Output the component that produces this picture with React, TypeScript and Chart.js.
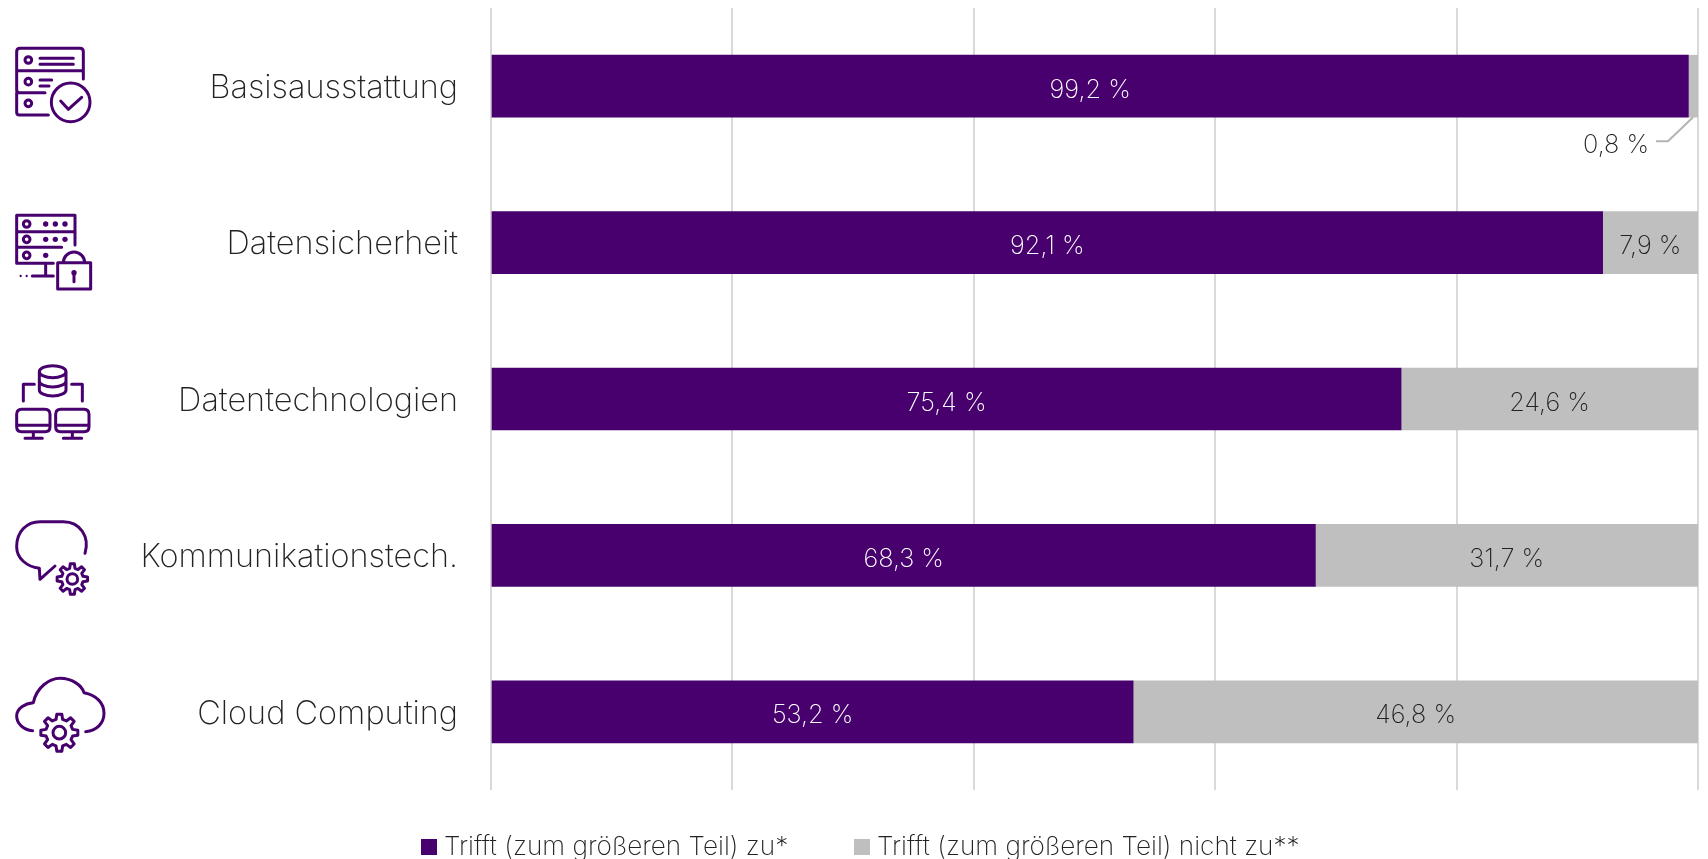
import React, { useEffect, useRef } from "react";
import { Chart, registerables } from "chart.js";

Chart.register(...registerables);

const categories = ["Basisausstattung", "Datensicherheit", "Datentechnologien", "Kommunikationstech.", "Cloud Computing"];
const agree = [99.2, 92.1, 75.4, 68.3, 53.2];
const disagree = [0.8, 7.9, 24.6, 31.7, 46.8];
const seriesNames = ["Trifft (zum größeren Teil) zu*", "Trifft (zum größeren Teil) nicht zu**"];

const PURPLE = "#47006e";
const GRAY = "#bfbfbf";
const INK = "#222222";
const FONT_FAMILY = "Inter, 'Noto Sans', sans-serif";

const percent = (v: number) => v.toFixed(1).replace(".", ",") + " %";

// Gear outline centred on (cx, cy), as an SVG path with eight teeth.
function gearPath(cx: number, cy: number, outer: number, inner: number): string {
  const teeth = 8;
  const pts: string[] = [];
  for (let i = 0; i < teeth; i++) {
    const a = (i / teeth) * Math.PI * 2;
    const w = Math.PI / teeth;
    const corners: [number, number][] = [
      [inner, a - w * 0.62],
      [outer, a - w * 0.34],
      [outer, a + w * 0.34],
      [inner, a + w * 0.62],
    ];
    for (const [r, t] of corners) {
      pts.push(`${pts.length ? "L" : "M"}${(cx + r * Math.cos(t)).toFixed(1)},${(cy + r * Math.sin(t)).toFixed(1)}`);
    }
  }
  return pts.join(" ") + " Z";
}

function ring(cx: number, cy: number, r: number): string {
  return `M${cx - r},${cy} A${r},${r} 0 1 0 ${cx + r},${cy} A${r},${r} 0 1 0 ${cx - r},${cy} Z`;
}

// Category pictograms in a 3x working grid, each with its own vertical origin.
const iconOutlines: { dy: number; d: string; dots?: [number, number, number][] }[] = [
  {
    dy: 0,
    d:
      "M60,145 H240 Q250,145 250,155 V212 H50 V155 Q50,145 60,145 Z " +
      ring(85, 180, 10) +
      " M120,175 H220 M120,193 H220 " +
      "M50,212 V270 Q50,278 58,278 H135 M250,212 V237 " +
      ring(85, 245, 10) +
      " M120,240 H155 M120,258 H147 " +
      "M50,278 V337 Q50,345 58,345 H145 " +
      ring(85, 310, 10) +
      ring(212, 307, 58) +
      " M182,303 L205,328 L245,292",
  },
  {
    dy: 0,
    d:
      "M225,735 V646 H50 V790 H160 M50,695 H225 M50,742 H185 " +
      ring(80, 672, 10) +
      ring(80, 718, 10) +
      ring(80, 766, 10) +
      " M137,790 V828 M97,828 H160 " +
      "M173,788 H272 V867 H173 Z M190,788 A32,32 0 0 1 254,788 M222,818 V845",
    dots: [
      [137, 672, 8], [166, 672, 8], [195, 672, 8],
      [137, 718, 8], [166, 718, 8], [195, 718, 8],
      [137, 766, 8], [62, 828, 3.5], [80, 828, 3.5], [222, 818, 8],
    ],
  },
  {
    dy: 1020,
    d:
      "M118,95 A40,18 0 1 1 198,95 A40,18 0 1 1 118,95 Z M118,95 V150 A40,18 0 0 0 198,150 V95 " +
      "M118,123 A40,18 0 0 0 198,123 " +
      "M70,183 V133 H103 M215,133 H247 V183 " +
      "M65,208 H135 Q150,208 150,223 V260 Q150,275 135,275 H65 Q50,275 50,260 V223 Q50,208 65,208 Z M50,256 H150 " +
      "M182,208 H252 Q267,208 267,223 V260 Q267,275 252,275 H182 Q167,275 167,260 V223 Q167,208 182,208 Z M167,256 H267 " +
      "M100,275 V295 M75,295 H127 M217,275 V295 M190,295 H245",
  },
  {
    dy: 1020,
    d:
      "M255,640 C270,590 240,545 190,545 H120 C80,545 50,575 50,620 C50,655 80,680 118,685 L120,718 L165,678 " +
      gearPath(217, 717, 46, 33) +
      " " +
      ring(217, 717, 16),
  },
  {
    dy: 1020,
    d:
      "M98,1172 C70,1170 50,1150 50,1128 C50,1105 75,1090 100,1088 C110,1040 150,1015 180,1015 " +
      "C215,1015 245,1035 252,1058 C290,1065 312,1090 312,1120 C312,1150 290,1172 257,1175 " +
      gearPath(178, 1178, 56, 41) +
      " " +
      ring(178, 1178, 19),
  },
];

const iconPlugin = {
  id: "categoryIcons",
  afterDraw(chart: any) {
    const { ctx } = chart;
    ctx.save();
    ctx.scale(1 / 3, 1 / 3);
    ctx.strokeStyle = PURPLE;
    ctx.fillStyle = PURPLE;
    ctx.lineWidth = 9;
    ctx.lineCap = "round";
    ctx.lineJoin = "round";
    for (const icon of iconOutlines) {
      ctx.save();
      ctx.translate(0, icon.dy);
      ctx.stroke(new Path2D(icon.d));
      for (const [x, y, r] of icon.dots ?? []) {
        ctx.beginPath();
        ctx.arc(x, y, r, 0, Math.PI * 2);
        ctx.fill();
      }
      ctx.restore();
    }
    ctx.restore();
  },
};

// Value captions inside the segments; the smallest one sits below its bar on a leader line.
const valueLabelPlugin = {
  id: "valueLabels",
  afterDatasetsDraw(chart: any) {
    const { ctx } = chart;
    ctx.save();
    ctx.font = `200 25.3px ${FONT_FAMILY}`;
    ctx.textBaseline = "middle";
    chart.data.datasets.forEach((ds: any, di: number) => {
      chart.getDatasetMeta(di).data.forEach((bar: any, i: number) => {
        const value = ds.data[i];
        const cx = (bar.base + bar.x) / 2;
        if (value < 2) {
          const bottom = bar.y + bar.height / 2;
          ctx.strokeStyle = "#b3b3b3";
          ctx.lineWidth = 2;
          ctx.beginPath();
          ctx.moveTo(bar.x - 5, bottom);
          ctx.lineTo(bar.x - 30, bottom + 24);
          ctx.lineTo(bar.x - 42, bottom + 24);
          ctx.stroke();
          ctx.fillStyle = INK;
          ctx.textAlign = "right";
          ctx.fillText(percent(value), bar.x - 49, bottom + 28);
        } else {
          ctx.fillStyle = di === 0 ? "#ffffff" : INK;
          ctx.textAlign = "center";
          ctx.fillText(percent(value), cx, bar.y + 4);
        }
      });
    });
    ctx.restore();
  },
};

// Swatch-and-text legend row under the plot, one entry per dataset.
const legendRowPlugin = {
  id: "legendRow",
  afterDraw(chart: any) {
    const { ctx } = chart;
    const starts = [421, 854];
    ctx.save();
    ctx.font = `200 26.2px ${FONT_FAMILY}`;
    ctx.textBaseline = "middle";
    ctx.textAlign = "left";
    chart.data.datasets.forEach((ds: any, di: number) => {
      ctx.fillStyle = ds.backgroundColor;
      ctx.fillRect(starts[di], 839, 16, 16);
      ctx.fillStyle = INK;
      ctx.fillText(ds.label, starts[di] + 23, 847);
    });
    ctx.restore();
  },
};

export default function App() {
  const canvasRef = useRef<HTMLCanvasElement>(null);

  useEffect(() => {
    const chart = new Chart(canvasRef.current!, {
      type: "bar",
      data: {
        labels: categories,
        datasets: [
          { label: seriesNames[0], data: agree, backgroundColor: PURPLE, barThickness: 62 },
          { label: seriesNames[1], data: disagree, backgroundColor: GRAY, barThickness: 62 },
        ],
      },
      options: {
        indexAxis: "y",
        responsive: false,
        animation: false,
        layout: { padding: { top: 8, right: 10, left: 0, bottom: 0 } },
        plugins: { legend: { display: false }, tooltip: { enabled: false }, title: { display: false } },
        scales: {
          x: {
            stacked: true,
            min: 0,
            max: 100,
            ticks: { display: false, stepSize: 20 },
            border: { display: false },
            grid: { color: "#d9d9d9", lineWidth: 2, drawTicks: false },
            afterFit(scale: any) {
              scale.height = 69;
              scale.paddingLeft = 0;
              scale.paddingRight = 0;
            },
          },
          y: {
            stacked: true,
            ticks: {
              color: INK,
              padding: 33,
              labelOffset: 2,
              font: { family: FONT_FAMILY, size: 32.5, weight: "200" },
            },
            border: { display: false },
            grid: { display: false, drawTicks: false },
            afterFit(scale: any) {
              scale.width = 491;
              scale.paddingTop = 0;
              scale.paddingBottom = 0;
            },
          },
        },
      },
      plugins: [iconPlugin, valueLabelPlugin, legendRowPlugin],
    } as any);
    return () => chart.destroy();
  }, []);

  return (
    <div style={{ position: "absolute", left: 0, top: 0, width: 1708, height: 859, overflow: "hidden", background: "#fff" }}>
      <canvas ref={canvasRef} width={1708} height={859} style={{ display: "block" }} />
    </div>
  );
}
